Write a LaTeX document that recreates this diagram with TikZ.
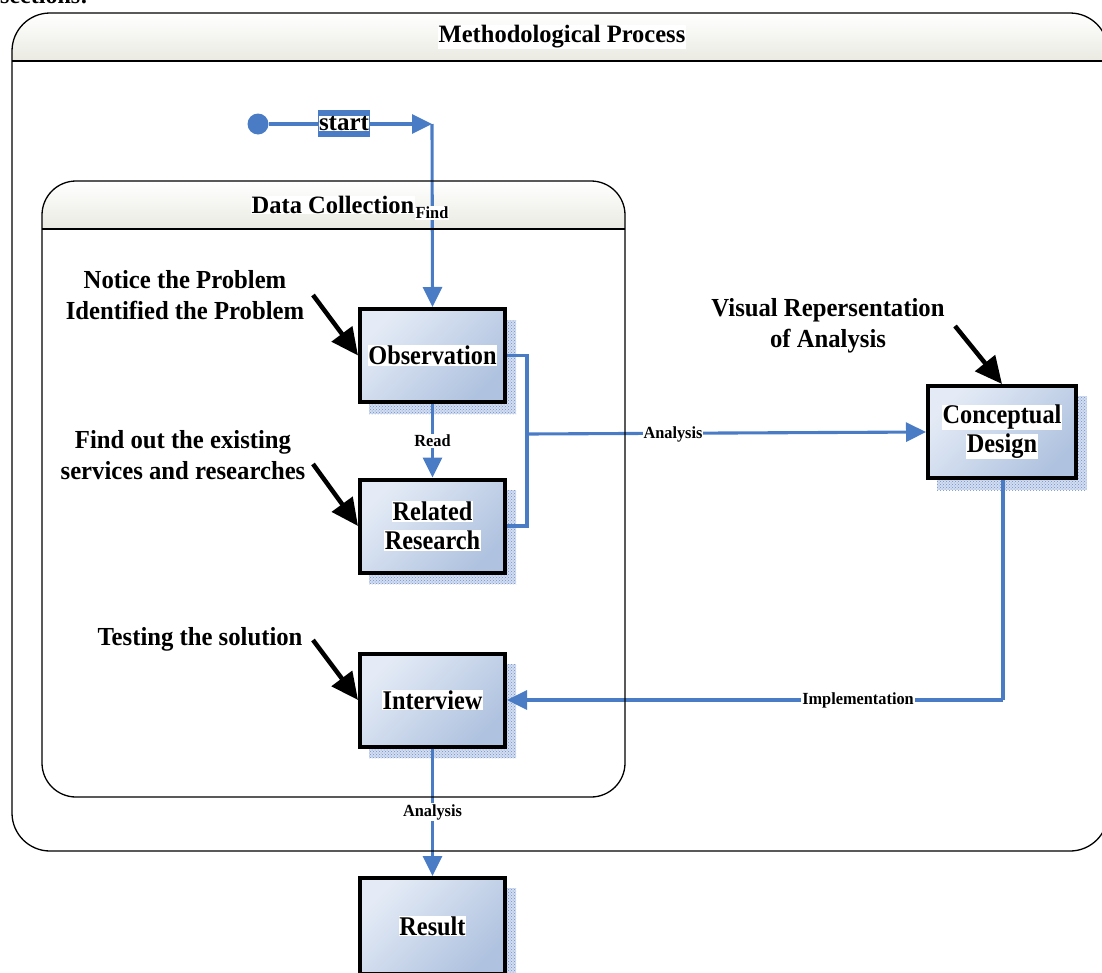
\documentclass[tikz,border=0pt]{standalone}
\usepackage{fontspec}
\setmainfont{Liberation Serif}
\newfontfamily\titlefont{Liberation Serif}[FakeStretch=0.98]
\newfontfamily\boxfont{Liberation Serif}[FakeStretch=0.9]
\newfontfamily\notefont{Liberation Serif}[FakeStretch=0.95]
\newfontfamily\labelfont{Liberation Serif}[FakeStretch=0.96]
\usetikzlibrary{arrows.meta,patterns}

\definecolor{flowblue}{HTML}{4A7CC6}
\definecolor{boxlight}{HTML}{E4EBF6}
\definecolor{boxdark}{HTML}{AFC2DF}
\definecolor{headbot}{HTML}{EAEAE2}
\definecolor{shadowdot}{HTML}{6F8FCB}
\definecolor{shadowfill}{HTML}{D3DDF0}

\newcommand\wb[1]{{\setlength\fboxsep{0.6pt}\colorbox{white}{#1}}}

\tikzset{
  every node/.style={font=\bfseries},
  stage/.style={draw=black, line width=4pt, minimum width=145pt, minimum height=93pt,
    left color=boxlight, right color=boxdark, shading angle=45,
    align=center, inner sep=0pt, font=\boxfont\bfseries\fontsize{27}{32}\selectfont},
  flow/.style={draw=flowblue, line width=3.1pt, -{Triangle[length=20pt,width=19pt]}},
  flowline/.style={draw=flowblue, line width=3.1pt},
  flowlabel/.style={fill=white, inner sep=1pt, font=\labelfont\bfseries\fontsize{17}{19}\selectfont},
  note/.style={align=center, font=\notefont\bfseries\fontsize{26}{31}\selectfont, inner sep=0pt},
  pointer/.style={draw=black, line width=4.5pt, -{Triangle[length=27pt,width=25pt]}},
  container/.style={draw=black, line width=1.3pt, rounded corners=38pt},
  header/.style={top color=white, bottom color=headbot},
  dropshadow/.style={fill=shadowfill, postaction={pattern=crosshatch dots, pattern color=shadowdot}},
}

\begin{document}
\begin{tikzpicture}[x=1pt, y=-1pt]
\useasboundingbox (0,0) rectangle (1102,972);

% running text above the figure
\node[anchor=base west, inner sep=0pt, font=\fontsize{24}{28}\selectfont\bfseries] (sec) at (0,3) {sections:};

% header bands of the two containers
\begin{scope}
  \clip[rounded corners=38pt] (12,13) rectangle (1108,851);
  \fill[header] (12,13) rectangle (1108,61);
\end{scope}
\begin{scope}
  \clip[rounded corners=34pt] (42,181) rectangle (625,797);
  \fill[header] (42,181) rectangle (625,229);
\end{scope}

% hatched drop shadows
\path[dropshadow] (369,320) rectangle (516,414);
\path[dropshadow] (369,490) rectangle (516,584);
\path[dropshadow] (369,664) rectangle (516,758);
\path[dropshadow] (369,888) rectangle (516,985);
\path[dropshadow] (937,396) rectangle (1087,490);

% stages
\node[stage] (obs) at (432.5,355.5) {\wb{Observation}};
\node[stage] (rel) at (432.5,526) {\wb{Related}\\[-3pt]\wb{Research}};
\node[stage] (intv) at (432.5,700) {\wb{Interview}};
\node[stage, minimum height=96pt] (res) at (432.5,926) {\wb{Result}};
\node[stage, minimum width=148pt, minimum height=92pt] (cd) at (1002,432) {\wb{Conceptual}\\[-3pt]\wb{Design}};

% start point
\node[circle, fill=flowblue, minimum size=21pt, inner sep=0pt] (init) at (258,124) {};
\coordinate (turn) at (432,124);
\draw[flow] (init) -- (turn);
\draw[flow] (turn) -- (obs.north);

% observation -> related research
\draw[flow] (obs.south) -- (rel.north);

% bracket from observation and related research to conceptual design
\coordinate (brk) at (527,434);
\draw[flowline] (obs.east) -| (brk) |- (rel.east);
\draw[flow] (brk) -- (cd.west);

% conceptual design -> interview
\coordinate (cdturn) at (1003,700);
\draw[flowline] (cd.south -| cdturn) -- (cdturn);
\draw[flow] (cdturn) -- (intv.east);

% interview -> result
\draw[flow] (intv.south) -- (res.north);

% container outlines and titles
\draw[container] (12,13) rectangle (1108,851);
\draw[line width=1.3pt] (12,61) -- (1108,61);
\node[font=\titlefont\bfseries\fontsize{25}{28}\selectfont, fill=white, inner sep=0.5pt] (mp) at (562,37) {Methodological Process};
\draw[container, rounded corners=34pt] (42,181) rectangle (625,797);
\draw[line width=1.3pt] (42,229) -- (625,229);
\node[font=\titlefont\bfseries\fontsize{25}{28}\selectfont, fill=white, inner sep=0.5pt] (dc) at (333,205) {Data Collection};

% connector labels
\node[fill=flowblue, inner xsep=1.5pt, inner ysep=6pt, font=\fontsize{25}{26}\selectfont\bfseries] (st) at (344,123.5) {\setlength\fboxsep{0pt}\colorbox{white}{start}};
\node[flowlabel, anchor=north] (find) at (432,206) {Find};
\node[flowlabel] (read) at (432.5,441) {Read};
\node[flowlabel] (ana1) at (673,434) {Analysis};
\node[flowlabel] (impl) at (858,700) {Implementation};
\node[flowlabel] (ana2) at (432.5,812) {Analysis};

% annotations
\node[note] (n1) at (185,295) {Notice the Problem\\Identified the Problem};
\coordinate (p1) at (313,295);
\draw[pointer] (p1) -- (obs.west);

\node[note] (n2) at (183,455) {Find out the existing\\services and researches};
\coordinate (p2) at (313,464);
\draw[pointer] (p2) -- (rel.west);

\node[note] (n3) at (200,639) {Testing the solution};
\coordinate (p3) at (313,640);
\draw[pointer] (p3) -- (intv.west);

\node[note] (n4) at (828,326) {Visual Repersentation\\of Analysis};
\coordinate (p4) at (955,326);
\draw[pointer] (p4) -- (cd.north);
\end{tikzpicture}
\end{document}
